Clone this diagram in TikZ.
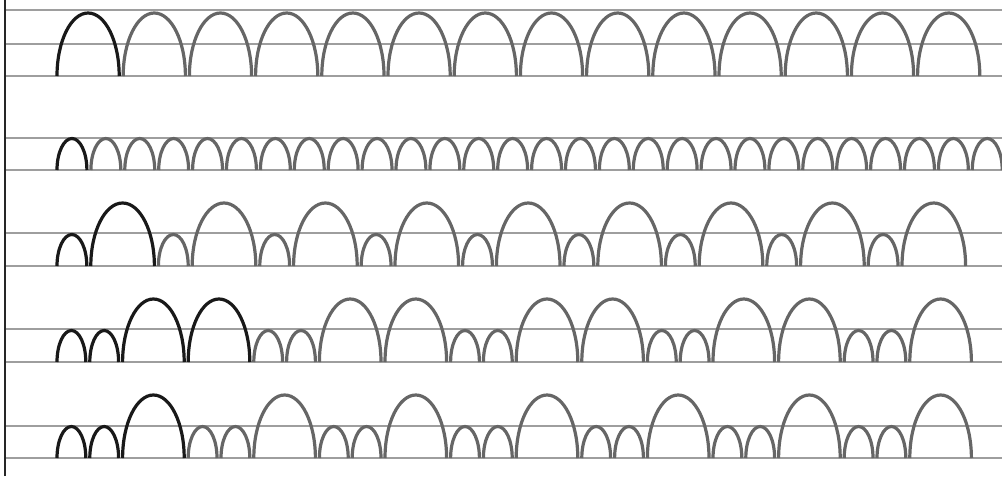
\documentclass[tikz,border=0pt]{standalone}
\usepackage{tikz}
\colorlet{archfirst}{black!90}
\colorlet{archrest}{black!60}
\tikzset{
  staffline/.style={draw=black!38, line width=1pt},
  axisline/.style={draw=black!85, line width=1.8pt},
  arch/.style={draw=#1, line width=2.4pt},
}
\newcommand{\archrow}[4]{%
  \foreach \len [count=\i, remember=\xnext as \xcur (initially 57)] in {#4} {
    \pgfmathsetmacro{\xnext}{\xcur+\len*#2}
    \pgfmathsetmacro{\archw}{\len*#2-4}
    \pgfmathsetmacro{\archh}{31.5*\len}
    \ifnum\i>#3 \def\archcol{archrest}\else\def\archcol{archfirst}\fi
    \draw[arch=\archcol] (\xcur,#1) arc[start angle=180, end angle=0, x radius=\archw/2, y radius=\archh];
  }%
}

\begin{document}
\begin{tikzpicture}[x=0.75pt, y=0.75pt]
\useasboundingbox (0,0) rectangle (1002,476);
\foreach \y in {466,432,400,338,306,243,210,147,114,50,18}
  \draw[staffline] (5,\y) -- (1002,\y);
\draw[axisline] (5,0) -- (5,476);
\archrow{400}{33.1}{1}{2,2,2,2,2,2,2,2,2,2,2,2,2,2}
\archrow{306}{33.9}{1}{1,1,1,1,1,1,1,1,1,1,1,1,1,1,1,1,1,1,1,1,1,1,1,1,1,1,1,1}
\archrow{210}{33.8}{2}{1,2,1,2,1,2,1,2,1,2,1,2,1,2,1,2,1,2}
\archrow{114}{32.8}{4}{1,1,2,2,1,1,2,2,1,1,2,2,1,1,2,2,1,1,2}
\archrow{18}{32.8}{3}{1,1,2,1,1,2,1,1,2,1,1,2,1,1,2,1,1,2,1,1,2}
\end{tikzpicture}
\end{document}
